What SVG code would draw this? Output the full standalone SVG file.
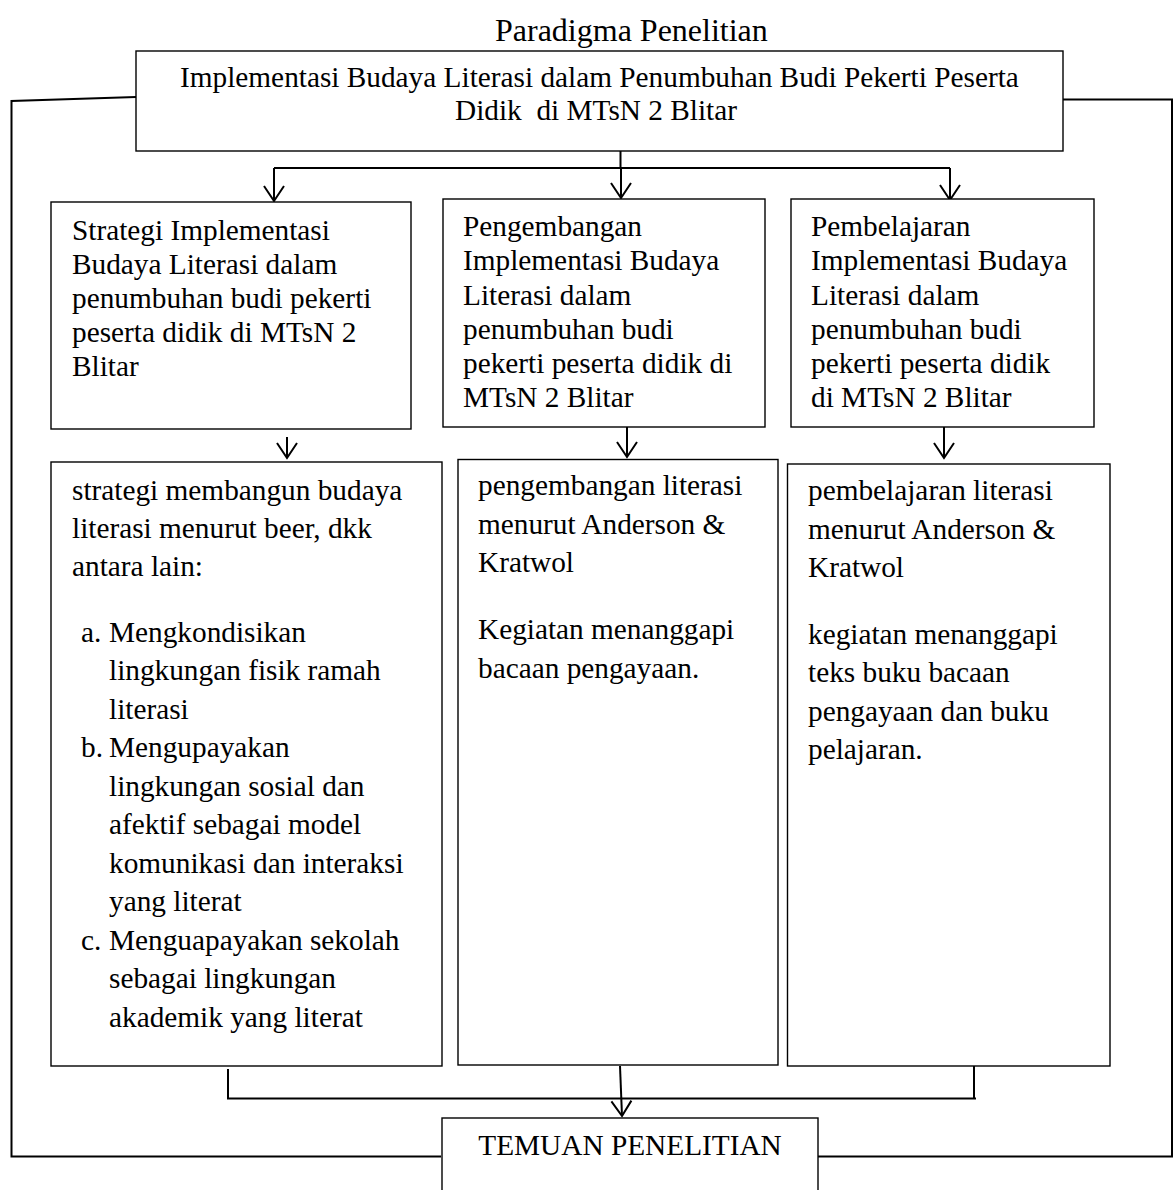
<svg xmlns="http://www.w3.org/2000/svg" width="1173" height="1190" viewBox="0 0 1173 1190">
<style>
.t{font-family:"Liberation Serif","Times New Roman",serif;font-size:29.3px;fill:#000;white-space:pre}
.title{font-size:32px}
.box{fill:#fff;stroke:#000;stroke-width:1.4}
.ln{fill:none;stroke:#000;stroke-width:2}
</style>
<defs>
<marker id="arr" markerUnits="userSpaceOnUse" markerWidth="30" markerHeight="30" refX="0" refY="0" orient="auto" overflow="visible">
<path d="M-15,-10 L0,0 L-15,10" fill="none" stroke="#000" stroke-width="2"/>
</marker>
</defs>
<rect width="1173" height="1190" fill="#fff"/>
<text class="t title" x="495" y="40.5">Paradigma Penelitian</text>

<g id="connectors">
<path class="ln" d="M136,97 L11.5,101 V1156.5 H441"/>
<path class="ln" d="M1063,99.5 H1172 V1156.5 H818"/>
<path class="ln" d="M620.5,151 V168"/>
<path class="ln" d="M274,168 H950"/>
<path class="ln" d="M274,168 V201" marker-end="url(#arr)"/>
<path class="ln" d="M621,168 V198" marker-end="url(#arr)"/>
<path class="ln" d="M950,168 V200" marker-end="url(#arr)"/>
<path class="ln" d="M287,437 V458" marker-end="url(#arr)"/>
<path class="ln" d="M627,427 V457" marker-end="url(#arr)"/>
<path class="ln" d="M944,427 V458" marker-end="url(#arr)"/>
<path class="ln" d="M228,1069 V1098.5 H976"/>
<path class="ln" d="M974,1064 V1098.5"/>
<path class="ln" d="M620,1066 L622,1116" marker-end="url(#arr)"/>
</g>

<g id="top">
<rect class="box" x="136" y="51" width="927" height="100"/>
<text class="t" x="180" y="87">Implementasi Budaya Literasi dalam Penumbuhan Budi Pekerti Peserta</text>
<text class="t" x="455" y="119.5">Didik  di MTsN 2 Blitar</text>
</g>

<g id="strategi">
<rect class="box" x="51" y="202" width="360" height="227"/>
<text class="t"><tspan x="72" y="239.5">Strategi Implementasi</tspan><tspan x="72" y="273.5">Budaya Literasi dalam</tspan><tspan x="72" y="307.5">penumbuhan budi pekerti</tspan><tspan x="72" y="341.5">peserta didik di MTsN 2</tspan><tspan x="72" y="375.5">Blitar</tspan></text>
</g>

<g id="pengembangan">
<rect class="box" x="443" y="199" width="322" height="228"/>
<text class="t"><tspan x="463" y="236">Pengembangan</tspan><tspan x="463" y="270">Implementasi Budaya</tspan><tspan x="463" y="304.5">Literasi dalam</tspan><tspan x="463" y="338.5">penumbuhan budi</tspan><tspan x="463" y="372.5">pekerti peserta didik di</tspan><tspan x="463" y="406.5">MTsN 2 Blitar</tspan></text>
</g>

<g id="pembelajaran">
<rect class="box" x="791" y="199" width="303" height="228"/>
<text class="t"><tspan x="811" y="236">Pembelajaran</tspan><tspan x="811" y="270">Implementasi Budaya</tspan><tspan x="811" y="304.5">Literasi dalam</tspan><tspan x="811" y="338.5">penumbuhan budi</tspan><tspan x="811" y="372.5">pekerti peserta didik</tspan><tspan x="811" y="406.5">di MTsN 2 Blitar</tspan></text>
</g>

<g id="strategi-detail">
<rect class="box" x="51" y="462" width="391" height="604"/>
<text class="t"><tspan x="72" y="500">strategi membangun budaya</tspan><tspan x="72" y="538">literasi menurut beer, dkk</tspan><tspan x="72" y="576">antara lain:</tspan><tspan x="81" y="642">a.</tspan><tspan x="109" y="642">Mengkondisikan</tspan><tspan x="109" y="680">lingkungan fisik ramah</tspan><tspan x="109" y="718.5">literasi</tspan><tspan x="81" y="757">b.</tspan><tspan x="109" y="757">Mengupayakan</tspan><tspan x="109" y="795.5">lingkungan sosial dan</tspan><tspan x="109" y="834">afektif sebagai model</tspan><tspan x="109" y="872.5">komunikasi dan interaksi</tspan><tspan x="109" y="911">yang literat</tspan><tspan x="81" y="949.5">c.</tspan><tspan x="109" y="949.5">Menguapayakan sekolah</tspan><tspan x="109" y="988">sebagai lingkungan</tspan><tspan x="109" y="1026.5">akademik yang literat</tspan></text>
</g>

<g id="pengembangan-detail">
<rect class="box" x="458" y="459.5" width="320" height="605.5"/>
<text class="t"><tspan x="478" y="495">pengembangan literasi</tspan><tspan x="478" y="533.5">menurut Anderson &amp;</tspan><tspan x="478" y="572">Kratwol</tspan><tspan x="478" y="639">Kegiatan menanggapi</tspan><tspan x="478" y="677.5">bacaan pengayaan.</tspan></text>
</g>

<g id="pembelajaran-detail">
<rect class="box" x="787.5" y="464" width="322.5" height="602"/>
<text class="t"><tspan x="808" y="500">pembelajaran literasi</tspan><tspan x="808" y="538.5">menurut Anderson &amp;</tspan><tspan x="808" y="577">Kratwol</tspan><tspan x="808" y="643.5">kegiatan menanggapi</tspan><tspan x="808" y="682">teks buku bacaan</tspan><tspan x="808" y="720.5">pengayaan dan buku</tspan><tspan x="808" y="759">pelajaran.</tspan></text>
</g>

<g id="temuan">
<rect class="box" x="442" y="1118" width="376" height="90"/>
<text class="t" x="630" y="1155" text-anchor="middle">TEMUAN PENELITIAN</text>
</g>
</svg>
